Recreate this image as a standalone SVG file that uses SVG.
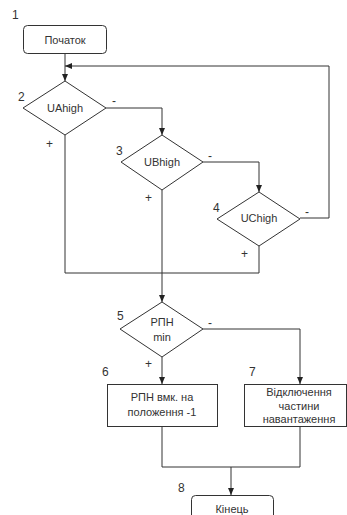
<svg xmlns="http://www.w3.org/2000/svg" width="347" height="515" viewBox="0 0 347 515">
<style>
.s{fill:#fff;stroke:#333;stroke-width:1}
.c{fill:none;stroke:#333;stroke-width:1}
.t{font-family:"Liberation Sans",Arial,sans-serif;font-size:11px;fill:#333;text-anchor:middle}
.n{font-family:"Liberation Sans",Arial,sans-serif;font-size:12px;fill:#333}
</style>
<defs>
<marker id="a" markerWidth="8" markerHeight="8" refX="7" refY="4" orient="auto" markerUnits="userSpaceOnUse">
<path d="M0,1 L7,4 L0,7 Z" fill="#222"/>
</marker>
</defs>
<rect width="347" height="515" fill="#fff"/>
<g id="connectors">
<path class="c" d="M65,53 V81" marker-end="url(#a)"/>
<path class="c" d="M300,218 H329 V66 H65" marker-end="url(#a)"/>
<path class="c" d="M106,108 H162 V135" marker-end="url(#a)"/>
<path class="c" d="M203,162 H259 V192" marker-end="url(#a)"/>
<path class="c" d="M65,135 V273 H259 V246"/>
<path class="c" d="M162,190 V302" marker-end="url(#a)"/>
<path class="c" d="M203,329 H300 V384" marker-end="url(#a)"/>
<path class="c" d="M162,357 V384" marker-end="url(#a)"/>
<path class="c" d="M162,426 V467 H300 V426"/>
<path class="c" d="M231,467 V495" marker-end="url(#a)"/>
<text class="n" x="112" y="105">-</text>
<text class="n" x="46" y="148">+</text>
<text class="n" x="208" y="160">-</text>
<text class="n" x="145" y="202">+</text>
<text class="n" x="305" y="216">-</text>
<text class="n" x="241" y="258">+</text>
<text class="n" x="208" y="327">-</text>
<text class="n" x="145" y="368">+</text>
</g>
<g id="n1">
<rect class="s" x="23.5" y="25.5" width="83" height="28" rx="4"/>
<text class="t" x="65" y="43.5">Початок</text>
<text class="n" x="12" y="19">1</text>
</g>
<g id="n2">
<path class="s" d="M65,81 L106,108 L65,135 L23,108 Z"/>
<text class="t" x="65" y="112">UAhigh</text>
<text class="n" x="18" y="101">2</text>
</g>
<g id="n3">
<path class="s" d="M162,135 L203,162 L162,190 L121,162 Z"/>
<text class="t" x="162" y="166">UBhigh</text>
<text class="n" x="116" y="155">3</text>
</g>
<g id="n4">
<path class="s" d="M259,192 L300,219 L259,246 L217,219 Z"/>
<text class="t" x="259" y="222">UChigh</text>
<text class="n" x="213" y="212">4</text>
</g>
<g id="n5">
<path class="s" d="M162,302 L203,329 L162,357 L120,329 Z"/>
<text class="t" x="162" y="326">РПН</text>
<text class="t" x="162" y="341">min</text>
<text class="n" x="117" y="320">5</text>
</g>
<g id="n6">
<rect class="s" x="107.5" y="384.5" width="110" height="42"/>
<text class="t" x="162" y="401">РПН вмк. на</text>
<text class="t" x="162" y="416">положення -1</text>
<text class="n" x="102" y="376">6</text>
</g>
<g id="n7">
<rect class="s" x="244.5" y="384.5" width="102" height="42"/>
<text class="t" x="299" y="396">Відключення</text>
<text class="t" x="299" y="410">частини</text>
<text class="t" x="299" y="423">навантаження</text>
<text class="n" x="249" y="376">7</text>
</g>
<g id="n8">
<rect class="s" x="191.5" y="495.5" width="82" height="30" rx="4"/>
<text class="t" x="232" y="513">Кінець</text>
<text class="n" x="178" y="492">8</text>
</g>
</svg>
